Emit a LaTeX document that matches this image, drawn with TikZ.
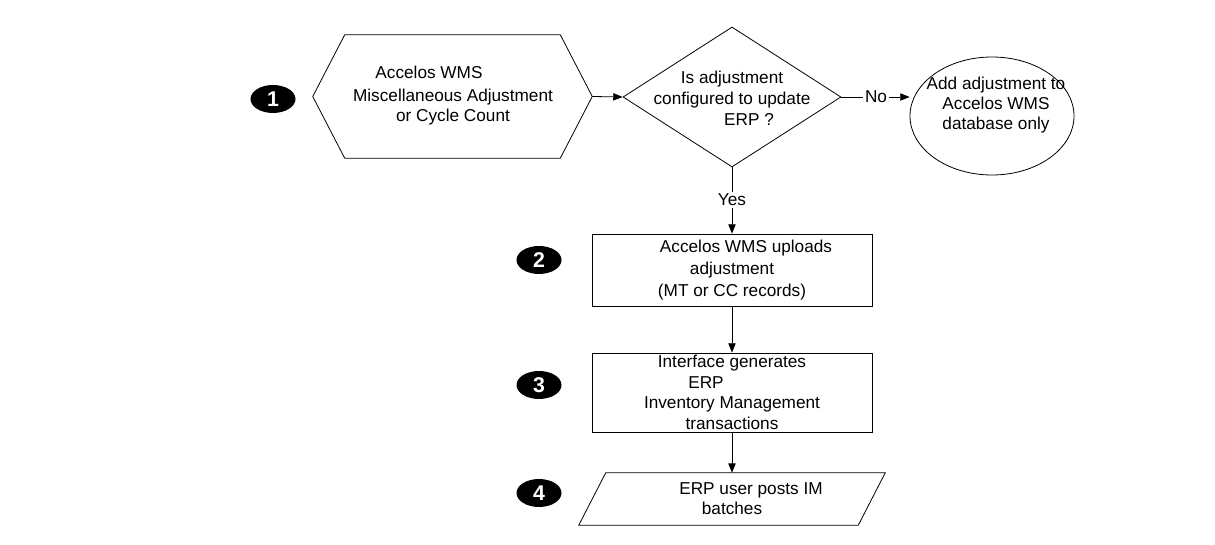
\documentclass[tikz,border=0pt]{standalone}
\usepackage{fontspec}
\setmainfont{Liberation Sans}
\usetikzlibrary{positioning,shapes.geometric,arrows.meta}

\begin{document}
\begin{tikzpicture}[x=0.75pt,y=-0.75pt]
\tikzset{badge/.style = {ellipse, fill=black, text=white, inner sep=0pt, minimum width=33.75pt, minimum height=21pt, font=\fontsize{16}{16}\selectfont\bfseries}}
\tikzset{box/.style = {rectangle, draw, line width=.6pt, inner ysep=0pt, minimum width=210pt, align=center, font=\fontsize{12.9}{15.5}\selectfont}}
\tikzset{txt/.style = {align=center, inner sep=1pt, font=\fontsize{12.9}{15.75}\selectfont}}
\tikzset{edge/.style = {->, >={Triangle[length=7pt,width=5.5pt]}, line width=.6pt}}

\useasboundingbox (0,0) rectangle (1215,545);

\node[minimum width=209.25pt, minimum height=92.25pt] (adj) at (452.5,96.5) {};
\draw[line width=.6pt] ([xshift=24pt]adj.north west) -- ([xshift=-24pt]adj.north east) -- (adj.east) -- ([xshift=-24pt]adj.south east) -- ([xshift=24pt]adj.south west) -- (adj.west) -- cycle;
\node[diamond, draw, line width=.6pt, inner sep=0pt, minimum width=163.5pt, minimum height=105pt] (upd) at (732,97) {};
\node[ellipse, draw, line width=.6pt, inner sep=0pt, minimum width=123pt, minimum height=88.5pt] (db) at (992,116) {};
\node[box, minimum height=54pt, font=\fontsize{12.9}{16.5}\selectfont] (upl) at (732,270) {\hspace*{21pt}Accelos WMS uploads\\adjustment\\(MT or CC records)};
\node[box, minimum height=59.25pt] (gen) at (732,392.5) {Interface generates\\ERP\hspace*{39pt}\mbox{}\\Inventory Management\\transactions};
\node[minimum width=229.5pt, minimum height=39pt, align=center, font=\fontsize{12.9}{15}\selectfont] (post) at (732,499) {\hspace*{28.5pt}ERP user posts IM\\batches};
\draw[line width=.6pt] ([xshift=20.25pt]post.north west) -- (post.north east) -- ([xshift=-20.25pt]post.south east) -- (post.south west) -- cycle;

\node[txt] at (429,72) {Accelos WMS};
\node[txt, font=\fontsize{12.9}{15}\selectfont] at (453,107) {Miscellaneous Adjustment\\or Cycle Count};
\node[txt] at (732,98) {Is adjustment\\configured to update\\\hspace*{25.5pt}ERP ?};
\node[txt, font=\fontsize{12.9}{15}\selectfont] at (996,105) {Add adjustment to\\Accelos WMS\\database only};

\node[badge] (n1) at (273,99) {1};
\node[badge] (n2) at (539,260) {2};
\node[badge] (n3) at (539,385) {3};
\node[badge] (n4) at (539,493) {4};

\node[txt] (no) at (876,97) {No};
\node[txt] (yes) at (732,200) {Yes};

\draw[edge] (adj.east) -- (upd.west);
\draw[line width=.6pt] (upd.east) -- (no);
\draw[edge] (no) -- (no -| db.west);
\draw[line width=.6pt] (upd.south) -- (yes);
\draw[edge] (yes) -- (upl);
\draw[edge] (upl) -- (gen);
\draw[edge] (gen) -- (post);

\end{tikzpicture}
\end{document}
